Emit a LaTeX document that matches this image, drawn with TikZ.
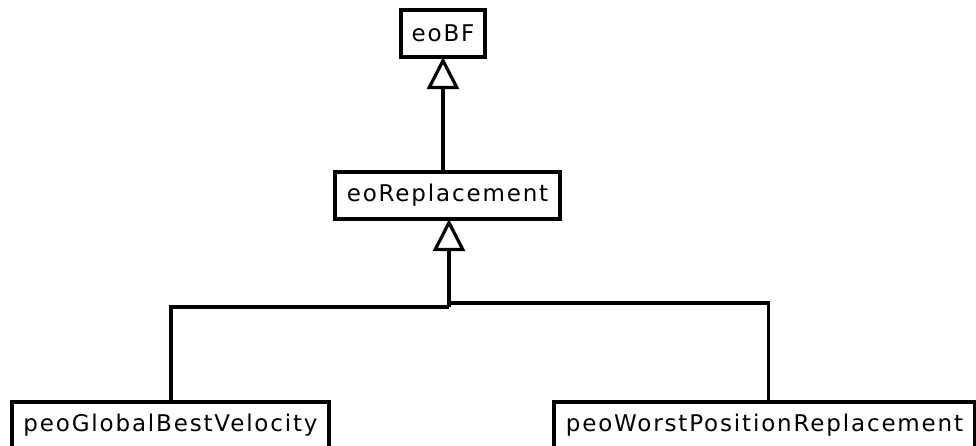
\documentclass[tikz,border=0pt]{standalone}
\usepackage{fontspec}
\setmainfont{DejaVu Sans}[LetterSpace=8]
\usetikzlibrary{arrows.meta}
\tikzset{
  cls/.style={draw=black, line width=3.2pt, fill=white, inner sep=0pt, minimum height=47pt,
    font=\fontsize{23}{27}\selectfont, anchor=center},
  conn/.style={draw=black, line width=3.2pt},
  inh/.style={-{Triangle[open, length=32pt, width=32pt]}, line width=3.2pt, shorten >=-1.5pt}
}
\begin{document}
\begin{tikzpicture}[x=1pt,y=-1pt]
\useasboundingbox[fill=white] (0,0) rectangle (976,446);
\node[cls, minimum width=84pt] (bf) at (443,33.5) {eoBF};
\node[cls, minimum width=225pt] (rep) at (447.5,195.5) {eoReplacement};
\node[cls, minimum width=317pt] (gbv) at (170.5,425.5) {peoGlobalBestVelocity};
\node[cls, minimum width=421pt] (wpr) at (764.5,425.5) {peoWorstPositionReplacement};
\coordinate (j1) at (449,307);
\coordinate (j2) at (449,303);
\draw[conn, inh] (rep.north -| bf.center) -- (bf.south);
\draw[conn, inh] (j1) -- (rep.south -| j1);
\draw[conn] (gbv.north -| 171,0) |- (j1);
\draw[conn] (wpr.north -| 768.5,0) |- (j2);
\end{tikzpicture}
\end{document}
